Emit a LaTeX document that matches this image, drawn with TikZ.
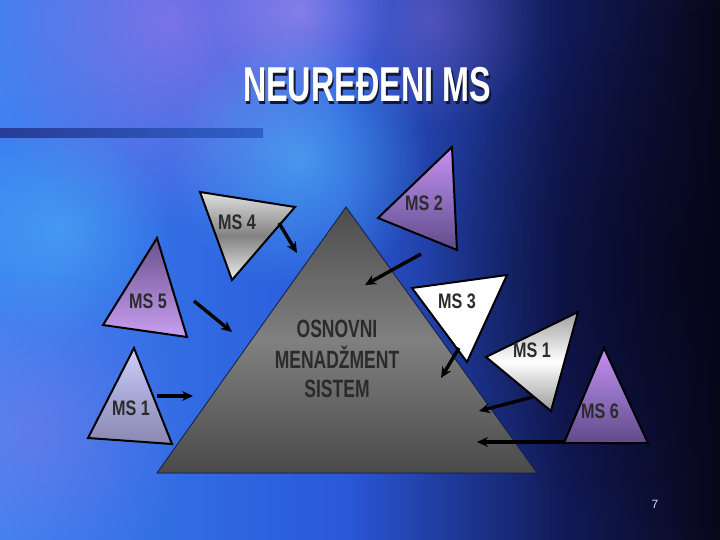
\documentclass[tikz,border=0pt]{standalone}
\usepackage{fontspec}
\setmainfont{Liberation Sans}
\usetikzlibrary{calc,arrows.meta,positioning,fadings}

\definecolor{bgA}{HTML}{3A82F0}
\definecolor{bgB}{HTML}{2A58D8}
\definecolor{bgC}{HTML}{121A58}
\definecolor{bgD}{HTML}{08081A}
\definecolor{spotPurple}{HTML}{A878E8}
\definecolor{spotPink}{HTML}{D0A0F4}
\definecolor{spotCyan}{HTML}{60D0FF}
\definecolor{spotDark}{HTML}{05051A}
\definecolor{barLeft}{HTML}{283C98}
\definecolor{barRight}{HTML}{3060C8}
\definecolor{pyrTop}{HTML}{4C4C4C}
\definecolor{pyrMid}{HTML}{808080}
\definecolor{pyrBot}{HTML}{4A4A4A}
\definecolor{pyrEdge}{HTML}{10204A}
\definecolor{labelGray}{HTML}{2B2B2B}
\definecolor{titleShade}{HTML}{101838}
\definecolor{silverA}{HTML}{E0E0E0}
\definecolor{silverB}{HTML}{828282}
\definecolor{silverC}{HTML}{F0F0F0}
\definecolor{lilacA}{HTML}{C890F0}
\definecolor{lilacB}{HTML}{9070C0}
\definecolor{lilacC}{HTML}{604A88}
\definecolor{plumA}{HTML}{6A5088}
\definecolor{plumB}{HTML}{9A78C0}
\definecolor{plumC}{HTML}{C8A0F0}
\definecolor{mistA}{HTML}{D0D0F8}
\definecolor{mistB}{HTML}{A8A8D8}
\definecolor{mistC}{HTML}{8888B0}
\definecolor{greyA}{HTML}{A0A0A0}
\definecolor{greyC}{HTML}{9A9A9A}

\pgfdeclarehorizontalshading{bgSweep}{100bp}{color(0bp)=(bgA); color(25bp)=(bgA); color(49bp)=(bgB); color(64bp)=(bgC); color(75bp)=(bgD); color(100bp)=(bgD)}
\tikzfading[name=softSpot, inner color=transparent!0, outer color=transparent!100]

\newcommand{\cond}[2]{\scalebox{#1}[1]{#2}}
\newcommand{\shadowed}[1]{\makebox[0pt][l]{\hspace{2.5pt}\raisebox{-2.5pt}{\color{titleShade}#1}}#1}

\begin{document}
\begin{tikzpicture}[x=1pt,y=-1pt,
    msTri/.style={draw=black,line width=2pt,line join=miter},
    msLabel/.style={font=\bfseries\fontsize{21}{21}\selectfont,text=labelGray,inner sep=0pt},
    msArrow/.style={line width=3.4pt,-{Stealth[length=11pt,width=10pt]}},
    spot/.style={path fading=softSpot}]
\useasboundingbox (0,0) rectangle (720,540);

% background
\shade[shading=bgSweep] (0,0) rectangle (720,540);
\fill[spotPurple,opacity=0.6,spot] (170,20) circle (210);
\fill[spotPink,opacity=0.45,spot] (300,10) circle (90);
\fill[spotCyan,opacity=0.5,spot] (300,160) circle (130);
\fill[spotCyan,opacity=0.35,spot] (60,230) circle (110);
\fill[spotPurple,opacity=0.35,spot] (430,20) circle (110);
\fill[spotPurple,opacity=0.35,spot] (30,430) circle (160);
\fill[spotDark,opacity=0.6,spot] (690,270) circle (260);
\fill[left color=barLeft,right color=barRight] (0,129) rectangle (263,138);

% title
\node[text=white,font=\bfseries\fontsize{49}{49}\selectfont] (title) at (367,86) {\cond{0.66}{\shadowed{NEUREĐENI MS}}};

% central pyramid
\coordinate (cPyrTopPt) at (346,207);
\coordinate (cPyrLeftPt) at (157,473);
\coordinate (cPyrRightPt) at (537,473);
\filldraw[draw=pyrEdge,line width=0.8pt,top color=pyrTop,bottom color=pyrBot,middle color=pyrMid]
    (cPyrTopPt) -- (cPyrRightPt) -- (cPyrLeftPt) -- cycle;
\node[text=labelGray,font=\bfseries\fontsize{25}{28.5}\selectfont] (core) at (337,362)
    {\cond{0.70}{\begin{tabular}{@{}c@{}}OSNOVNI\\MENADŽMENT\\SISTEM\end{tabular}}};

% satellite triangles
\foreach \n/\pa/\pb/\pc/\ca/\cb/\cc/\lx/\ly/\t in
{msFour/{200,192}/{295,207}/{232,280}/silverA/silverB/silverC/237/222/MS 4,
    msTwo/{452,147}/{378,218}/{457,250}/lilacA/lilacB/lilacC/424/203/MS 2,
    msFive/{157,238}/{103,325}/{187,337}/plumA/plumB/plumC/148/301/MS 5,
    msOneL/{134,348}/{88,438}/{172,444}/mistA/mistB/mistC/131/408/MS 1,
    msThree/{412,288}/{507,275}/{467,362}/white/white/white/457/301/MS 3,
    msOneR/{486,357}/{578,312}/{551,411}/greyA/white/greyC/532/350/MS 1,
    msSix/{604,348}/{564,443}/{648,443}/lilacA/lilacB/lilacC/600/411/MS 6%
}
{
    \filldraw[msTri,top color=\ca,bottom color=\cc,middle color=\cb] (\pa) -- (\pb) -- (\pc) -- cycle;
    \node[msLabel] (\n) at (\lx,\ly) {\cond{0.77}{\t}};
};

% arrows
\foreach \i/\sx/\sy/\ex/\ey in
{1/279/223/297/253,
    2/421/254/365/285,
    3/194/301/232/332,
    4/157/396/193/396,
    5/459/348/441/378,
    6/533/397/479/411,
    7/565/442/477/442%
}
{
    \coordinate (cFrom\i) at (\sx,\sy);
    \coordinate (cTo\i) at (\ex,\ey);
    \draw[msArrow] (cFrom\i) -- (cTo\i);
};

\node[text=white!85!blue,font=\fontsize{12}{12}\selectfont] (pageNo) at (655,504) {7};
\end{tikzpicture}
\end{document}
